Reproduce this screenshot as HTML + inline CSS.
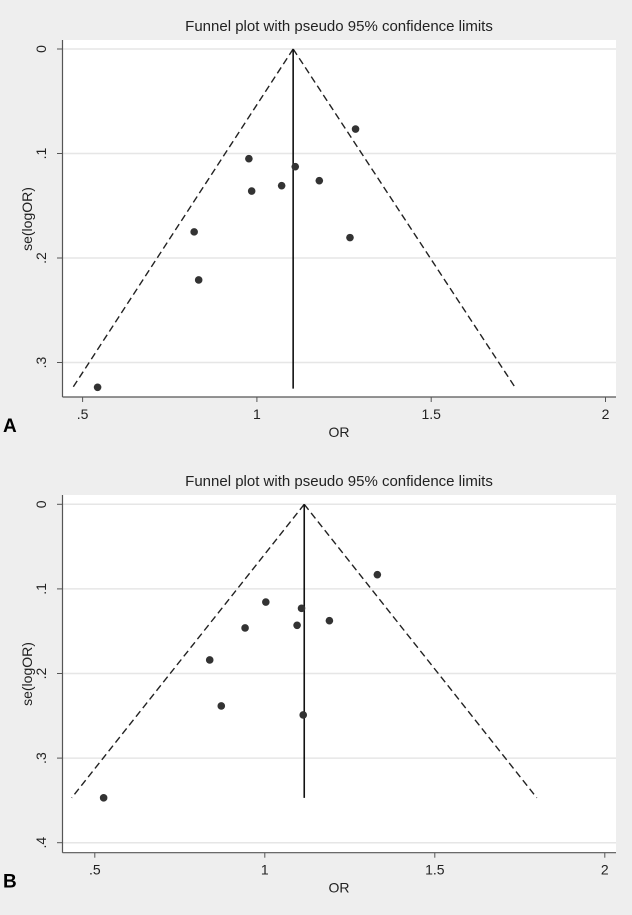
<!DOCTYPE html>
<html><head><meta charset="utf-8"><style>
html,body{margin:0;padding:0;background:#eeeeee;}
svg{display:block;font-family:"Liberation Sans",sans-serif;}
</style></head><body>
<svg id="fig" width="632" height="915" viewBox="0 0 632 915" xmlns="http://www.w3.org/2000/svg"></svg>
<script>
// Panel A data
const orA = [1.283, 0.977, 1.110, 1.179, 1.071, 0.985, 0.820, 1.267, 0.833, 0.543];
const seA = [0.0766, 0.105, 0.1126, 0.126, 0.1308, 0.1359, 0.175, 0.1805, 0.221, 0.3237];
const pooledA = 1.104;
const funnelA = [0.47, 1.743, 0.325]; // left OR, right OR, se at bottom
const yTicksA = [0, 0.1, 0.2, 0.3];
// Panel B data
const orB = [1.331, 1.003, 1.108, 1.190, 1.095, 0.942, 0.838, 0.872, 1.113, 0.526];
const seB = [0.0832, 0.1155, 0.123, 0.1376, 0.143, 0.1462, 0.184, 0.2384, 0.249, 0.347];
const pooledB = 1.116;
const funnelB = [0.432, 1.80, 0.347];
const yTicksB = [0, 0.1, 0.2, 0.3, 0.4];
const xTicks = [0.5, 1, 1.5, 2];
const tickLabel = v => v === 0 ? '0' : (v < 1 ? String(v).replace(/^0/, '') : String(v));

const NS = 'http://www.w3.org/2000/svg';
const svg = document.getElementById('fig');
function mk(tag, attrs, parent) {
  const e = document.createElementNS(NS, tag);
  for (const k in attrs) e.setAttribute(k, attrs[k]);
  (parent || svg).appendChild(e);
  return e;
}

function panel(cfg) {
  const g = mk('g', {});
  
  
  const X = v => cfg.x0 + (v - 0.5) * cfg.xs;
  const Y = v => cfg.y0 + v * cfg.ys;
  const pa = mk('rect', {x: 62.5, y: cfg.top, width: 553.5, height: cfg.bottom - cfg.top, fill: '#ffffff'}, g);
  
  
  const t = mk('text', {x: 339, y: cfg.top - 9, 'font-size': 15, 'text-anchor': 'middle', fill: '#222'}, g);
  t.textContent = 'Funnel plot with pseudo 95% confidence limits';
  
  
  cfg.yTicks.forEach(v => {
    const y = Y(v);
    const gl = mk('line', {x1: 62.5, x2: 616, y1: y, y2: y, stroke: '#e6e6e6', 'stroke-width': 1.5}, g);
    
    
    mk('line', {x1: 57, x2: 62.5, y1: y, y2: y, stroke: '#555', 'stroke-width': 1}, g);
    const tl = mk('text', {x: 0, y: 0, 'font-size': 14, 'text-anchor': 'middle', fill: '#222',
      transform: `translate(46,${y}) rotate(-90)`}, g);
    tl.textContent = tickLabel(v);
    
    
  });
  mk('line', {x1: 62.5, x2: 62.5, y1: cfg.top, y2: cfg.bottom, stroke: '#555', 'stroke-width': 1.2}, g);
  mk('line', {x1: 62.5, x2: 616, y1: cfg.bottom, y2: cfg.bottom, stroke: '#555', 'stroke-width': 1.2}, g);
  xTicks.forEach(v => {
    const x = X(v);
    mk('line', {x1: x, x2: x, y1: cfg.bottom, y2: cfg.bottom + 5, stroke: '#555', 'stroke-width': 1}, g);
    const tl = mk('text', {x: x, y: cfg.bottom + 22, 'font-size': 14, 'text-anchor': 'middle', fill: '#222'}, g);
    tl.textContent = tickLabel(v);
    
    
  });
  const xt = mk('text', {x: 339, y: cfg.bottom + 40, 'font-size': 14, 'text-anchor': 'middle', fill: '#222'}, g);
  xt.textContent = 'OR';
  
  
  const yt = mk('text', {x: 0, y: 0, 'font-size': 14, 'text-anchor': 'middle', fill: '#222',
    transform: `translate(32,${cfg.ytitleY}) rotate(-90)`}, g);
  yt.textContent = 'se(logOR)';
  
  
  const ax = X(cfg.pooled), ay = Y(0), by = Y(cfg.funnel[2]);
  const l1 = mk('line', {x1: ax, y1: ay, x2: X(cfg.funnel[0]), y2: by, stroke: '#222', 'stroke-width': 1.4, 'stroke-dasharray': '7,4'}, g);
  
  
  const l2 = mk('line', {x1: ax, y1: ay, x2: X(cfg.funnel[1]), y2: by, stroke: '#222', 'stroke-width': 1.4, 'stroke-dasharray': '7,4'}, g);
  
  
  const pl = mk('line', {x1: ax, y1: ay, x2: ax, y2: by, stroke: '#111', 'stroke-width': 1.6}, g);
  
  
  cfg.or.forEach((o, i) => {
    const c = mk('circle', {cx: X(o), cy: Y(cfg.se[i]), r: 3.8, fill: '#333'}, g);
    
    
  });
  const lt = mk('text', {x: 3, y: cfg.bottom + 35, 'font-size': 19, 'font-weight': 'bold', fill: '#000'}, g);
  lt.textContent = cfg.letter;
  
  
}

panel({name: 'panel-a', letter: 'A', or: orA, se: seA, pooled: pooledA, funnel: funnelA, yTicks: yTicksA,
  x0: 82.6, xs: 348.6, y0: 49, ys: 1045, top: 40, bottom: 397, ytitleY: 219});
panel({name: 'panel-b', letter: 'B', or: orB, se: seB, pooled: pooledB, funnel: funnelB, yTicks: yTicksB,
  x0: 94.8, xs: 340, y0: 504.3, ys: 846, top: 495, bottom: 852.7, ytitleY: 674});
</script>
</body></html>
